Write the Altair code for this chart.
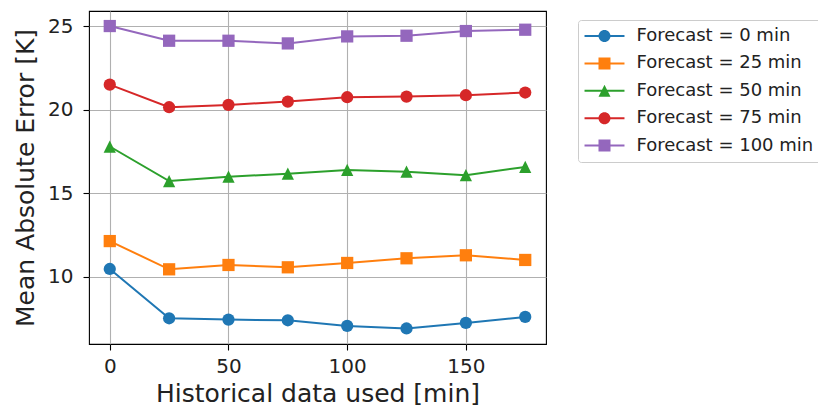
import altair as alt
import pandas as pd
import json

hist_minutes = [0, 25, 50, 75, 100, 125, 150, 175]
series_names = ["Forecast = 0 min", "Forecast = 25 min", "Forecast = 50 min",
                "Forecast = 75 min", "Forecast = 100 min"]
mae_0 = [10.46, 7.51, 7.43, 7.39, 7.05, 6.90, 7.23, 7.59]
mae_25 = [12.13, 10.44, 10.70, 10.56, 10.82, 11.10, 11.28, 11.00]
mae_50 = [17.79, 15.72, 15.98, 16.16, 16.39, 16.28, 16.07, 16.57]
mae_75 = [21.49, 20.14, 20.28, 20.48, 20.74, 20.78, 20.86, 21.02]
mae_100 = [25.00, 24.12, 24.12, 23.96, 24.38, 24.42, 24.70, 24.78]
x_ticks = [0, 50, 100, 150]
y_ticks = [10, 15, 20, 25]

colors = ["#1f77b4", "#ff7f0e", "#2ca02c", "#d62728", "#9467bd"]
tri = "M0,-1L1,1H-1Z"
marker_shapes = ["circle", "square", tri, "circle", "square"]
bar = "M-3.33,-0.17H3.33V0.17H-3.33Z"
circ = "M-1,0A1,1,0,1,1,1,0A1,1,0,1,1,-1,0Z"
sq = "M-1,-1H1V1H-1Z"
legend_paths = [circ + bar, sq + bar, tri + bar, circ + bar, sq + bar]
legend_expr = "[" + ",".join("'" + p + "'" for p in legend_paths) + "][datum.index]"

rows = []
for name, vals in zip(series_names, [mae_0, mae_25, mae_50, mae_75, mae_100]):
    for h, v in zip(hist_minutes, vals):
        rows.append({"hist": h, "mae": v, "series": name})
df = pd.DataFrame(rows)

FONT = "DejaVu Sans"
TXT = "#222222"

x_enc = alt.X("hist:Q",
              scale=alt.Scale(domain=[-8.75, 183.75], nice=False, zero=False),
              axis=alt.Axis(values=x_ticks, title="Historical data used [min]",
                            labelPadding=6, titlePadding=5))
y_enc = alt.Y("mae:Q",
              scale=alt.Scale(domain=[5.97, 25.9], nice=False, zero=False),
              axis=alt.Axis(values=y_ticks, title="Mean Absolute Error [K]",
                            labelPadding=10, titlePadding=9))
color_scale = alt.Scale(domain=series_names, range=colors)

legend = alt.Legend(
    title=None, orient="none", legendX=489, legendY=9,
    labelFont=FONT, labelFontSize=18, labelColor=TXT, labelLimit=400,
    symbolType=alt.ExprRef(expr=legend_expr),
    symbolSize=144, symbolStrokeWidth=0, symbolOffset=10.5,
    labelOffset=23, padding=7, rowPadding=9.4,
    strokeColor="#cccccc", fillColor="white", cornerRadius=3,
)

lines = alt.Chart(df).mark_line(strokeWidth=2).encode(
    x=x_enc, y=y_enc,
    color=alt.Color("series:N", scale=color_scale, legend=legend),
)

points = alt.Chart(df).transform_calculate(
    marker="indexof(" + json.dumps(series_names) + ", datum.series)"
).mark_point(filled=True, size=150, opacity=1, strokeWidth=0).encode(
    x=x_enc, y=y_enc,
    color=alt.Color("series:N", scale=color_scale, legend=legend),
    shape=alt.Shape("marker:N", scale=alt.Scale(range=marker_shapes), legend=None),
)

chart = alt.layer(lines, points).properties(
    width=457, height=333,
    autosize=alt.AutoSizeParams(type="none"),
    padding={"left": 89, "top": 11, "right": 272, "bottom": 66},
).configure_view(
    stroke="black", strokeWidth=1.1,
).configure_axis(
    labelFont=FONT, titleFont=FONT, labelFontSize=20, titleFontSize=25,
    titleFontWeight="normal", labelColor=TXT, titleColor=TXT,
    domain=False, tickSize=6, tickWidth=1.1, tickColor="black",
    gridColor="#b0b0b0", gridWidth=1.1,
)

chart.save("out.html", embed_options={"renderer": "svg", "actions": False})
